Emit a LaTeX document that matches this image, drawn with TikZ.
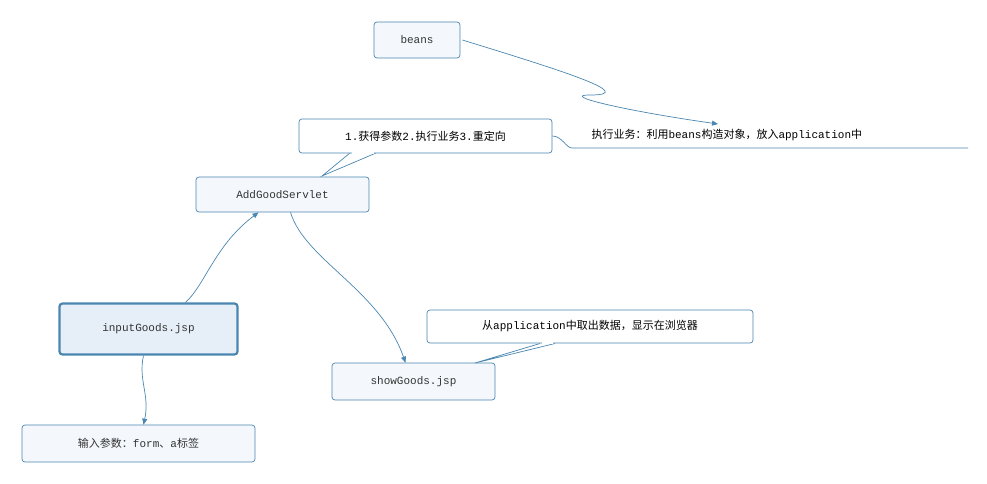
\documentclass[tikz,border=0pt]{standalone}
\usepackage{fontspec}
\setmainfont{Liberation Mono}
\newfontfamily\cjk{Noto Sans CJK SC}
\usetikzlibrary{arrows.meta}
\definecolor{bd}{HTML}{4A86B0}
\definecolor{fl}{HTML}{F4F8FC}
\definecolor{fl2}{HTML}{E6EFF8}
\tikzset{
 box/.style={draw=bd,fill=fl,rounded corners=3pt,line width=0.7pt,inner sep=0pt,font=\fontsize{11}{13}\selectfont,text=black!80},
 callout/.style={draw=bd,fill=white,rounded corners=3pt,line width=0.7pt,inner sep=0pt,font=\fontsize{11}{13}\selectfont},
 conn/.style={draw=bd,line width=0.7pt,-{Triangle[length=6pt,width=5pt]}},
}
\begin{document}
\begin{tikzpicture}[x=1pt,y=-1pt]
\useasboundingbox (0,0) rectangle (987,483);
\node[box,minimum width=86pt,minimum height=36pt] (beans) at (417,40) {beans};
\node[box,minimum width=173pt,minimum height=35pt] (ags) at (282.5,194.5) {AddGoodServlet};
\node[box,fill=fl2,line width=2.2pt,minimum width=178pt,minimum height=51pt] (ig) at (148.5,329) {inputGoods.jsp};
\node[box,minimum width=163pt,minimum height=37pt] (sg) at (413.5,381.5) {showGoods.jsp};
\node[box,minimum width=233pt,minimum height=37pt] (par) at (138.5,443.5) {{\cjk 输入参数：}form{\cjk 、}a{\cjk 标签}};
% callout 1
\fill[white] (350,152) -- (322,176) -- (376,152) -- cycle;
\draw[bd,line width=0.7pt] (350,153) -- (322,176) -- (376,153);
\node[callout,minimum width=253pt,minimum height=34pt] (c1) at (425.5,136) {1.{\cjk 获得参数}2.{\cjk 执行业务}3.{\cjk 重定向}};
\fill[white] (352,152) rectangle (374,153.5);
% callout 2
\fill[white] (540,343) -- (475,363) -- (555,343) -- cycle;
\draw[bd,line width=0.7pt] (540,343.5) -- (475,363) -- (555,343.5);
\node[callout,minimum width=326pt,minimum height=33pt] (c2) at (590,326.5) {{\cjk 从}application{\cjk 中取出数据，显示在浏览器}};
\fill[white] (542,342) rectangle (553,344);
% floating topic
\node[font=\fontsize{11}{13}\selectfont,anchor=west] (t) at (588,135) {{\cjk 执行业务：利用}beans{\cjk 构造对象，放入}application{\cjk 中}};
\coordinate (u1) at (572,148);
\coordinate (u2) at (968,148);
\draw[bd,line width=0.7pt] (c1.east) .. controls (562,136) and (566,148) .. (u1) -- (u2);
% connectors
\draw[conn] ([xshift=2pt]beans.east) .. controls (560,70) and (640,95) .. (590,95) .. controls (560,95) and (620,110) .. (718,124);
\draw[conn] ([xshift=37pt]ig.north) .. controls (205,285) and (215,245) .. ([xshift=-24pt]ags.south);
\draw[conn] ([xshift=8pt]ags.south) .. controls (305,260) and (380,290) .. ([xshift=-8pt]sg.north);
\draw[conn] ([xshift=-5pt]ig.south) .. controls (138,380) and (150,395) .. ([xshift=5pt]par.north);
\end{tikzpicture}
\end{document}
